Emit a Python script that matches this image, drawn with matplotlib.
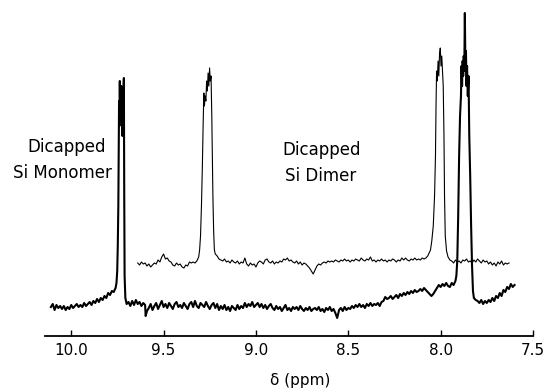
import numpy as np
import matplotlib
matplotlib.use("Agg")
import matplotlib.pyplot as plt

# ---- lower trace (dicapped Si monomer), ppm vs. intensity ----
low_base1_ppm = np.round(np.arange(10.11, 9.755, -0.01), 3)
low_base1 = [2.9, 3.2, 2.6, 3.1, 2.8, 3.0, 2.7, 3.0, 2.6, 2.9, 2.7, 3.1, 2.8, 3.0, 3.2, 2.9, 3.1, 2.9,
             3.3, 3.0, 3.2, 3.4, 3.1, 3.5, 3.3, 3.7, 3.4, 3.8, 3.6, 4.0, 3.8, 4.3, 4.1, 4.5, 4.4, 4.8]

low_peak1_ppm = [9.755, 9.751, 9.748, 9.745, 9.743, 9.741, 9.739, 9.737, 9.735, 9.733, 9.731, 9.729,
                 9.727, 9.725, 9.723, 9.721, 9.719, 9.715, 9.713, 9.711, 9.707, 9.700]
low_peak1 = [5.3, 6.5, 9.0, 13.0, 18.0, 23.5, 21.0, 25.5, 22.0, 24.8, 21.5, 25.0,
             22.0, 24.2, 20.0, 24.0, 23.5, 25.8, 14.0, 6.0, 3.8, 3.2]

low_base2_ppm = [9.69, 9.68, 9.67, 9.66, 9.65, 9.64, 9.63, 9.62, 9.61, 9.60, 9.597, 9.59]
low_base2 = [3.4, 3.0, 3.5, 3.1, 3.6, 3.2, 3.4, 3.0, 3.3, 3.1, 2.0, 2.5]

low_base3_ppm = np.round(np.arange(9.58, 7.915, -0.01), 3)
low_base3 = [2.8, 3.2, 2.6, 3.0, 3.3, 2.7, 3.1, 3.5, 2.9, 3.2,
             2.8, 3.3, 3.0, 2.7, 3.2, 3.4, 2.9, 3.1, 2.8, 3.3,
             3.0, 2.7, 3.2, 3.4, 2.9, 3.5, 3.0, 2.8, 3.3, 3.1,
             2.9, 3.4, 3.0, 2.7, 3.1, 3.3, 2.8, 3.2, 2.6, 3.0,
             2.7, 3.1, 2.6, 2.9, 2.5, 3.0, 2.8, 2.6, 3.1, 2.7,
             3.0, 2.8, 3.3, 2.9, 3.2, 3.0, 3.4, 2.9, 3.1, 3.3,
             2.9, 3.2, 2.8, 3.1, 2.7, 3.0, 3.2, 2.8, 2.6, 3.0,
             2.7, 2.9, 2.5, 2.8, 3.1, 2.6, 2.8, 2.5, 2.9, 2.7,
             2.9, 2.6, 3.0, 2.7, 2.5, 2.8, 2.6, 2.9, 2.5, 2.7,
             2.8, 2.6, 2.9, 2.5, 2.7, 2.4, 2.8, 2.6, 2.9, 2.5,
             2.7, 2.3, 1.8, 2.6, 2.8, 2.5, 2.9, 2.6, 2.8, 2.7,
             3.0, 2.8, 3.1,
             2.9, 3.2, 2.9, 3.1, 2.8, 3.2, 3.0, 3.3, 3.0, 3.2,
             3.1, 3.3, 3.0, 3.4, 3.5, 3.9, 3.7, 3.8, 4.0, 3.7,
             3.9, 4.1, 3.8, 4.2, 4.0, 4.3, 4.1, 4.4, 4.2, 4.5,
             4.3, 4.6, 4.4, 4.5, 4.7, 4.5, 4.8, 4.6, 4.4, 4.2,
             4.0, 4.2, 4.5, 4.8, 5.1, 4.9, 5.2, 5.0, 5.3, 5.0,
             4.9, 5.3, 5.1, 5.5]

low_peak2_ppm = [7.915, 7.910, 7.905, 7.900, 7.895, 7.890, 7.887, 7.884, 7.881, 7.878, 7.875, 7.872,
                 7.869, 7.866, 7.863, 7.860, 7.857, 7.853, 7.849, 7.845, 7.840, 7.835, 7.830, 7.825,
                 7.820, 7.810]
low_peak2 = [6.0, 7.5, 12.0, 18.0, 22.0, 24.0, 27.0, 25.0, 27.5, 26.0, 28.0, 26.5,
             32.3, 27.0, 28.5, 25.0, 27.0, 24.0, 26.0, 20.0, 16.0, 11.0, 7.0, 4.5,
             3.8, 3.6]

low_base4_ppm = np.round(np.arange(7.80, 7.595, -0.01), 3)
low_base4 = [3.5, 3.3, 3.6, 3.2, 3.5, 3.3, 3.6, 3.4, 3.8, 3.5, 4.0,
             3.8, 4.3, 4.0, 4.6, 4.4, 4.9, 4.7, 5.2, 4.9, 5.1]

# ---- upper trace (dicapped Si dimer) ----
up_base1_ppm = np.round(np.arange(9.64, 9.315, -0.01), 3)
up_base1 = [7.3, 7.1, 7.4, 7.2, 7.3, 7.0, 7.2, 6.9, 7.1, 7.3, 7.2, 7.6, 7.4, 7.9, 8.2, 7.7, 7.8,
            7.5, 7.4, 7.1, 7.0, 7.3, 7.1, 7.2, 6.9, 6.8, 7.1, 7.0, 7.4, 7.3, 7.4, 7.3, 7.5]

up_peak1_ppm = [9.310, 9.305, 9.300, 9.295, 9.290, 9.286, 9.282, 9.279, 9.275, 9.271, 9.267, 9.263,
                9.259, 9.255, 9.251, 9.247, 9.243, 9.239, 9.236, 9.233, 9.229, 9.225, 9.220, 9.210,
                9.200]
up_peak1 = [7.9, 8.6, 10.0, 13.0, 17.0, 21.0, 24.3, 23.0, 24.0, 23.5, 25.5, 24.5,
            26.3, 25.0, 26.8, 25.5, 26.0, 22.0, 18.0, 14.0, 10.5, 8.6, 8.2, 8.0,
            7.7]

up_base2_ppm = np.round(np.arange(9.19, 8.065, -0.01), 3)
up_base2 = [7.6, 7.5, 7.7, 7.4, 7.5, 7.3, 7.6, 7.4, 7.3, 7.5,
            7.2, 7.4, 7.3, 7.8, 7.2, 7.0, 7.3, 7.1, 7.2, 6.9,
            7.3, 7.5, 7.4, 7.2, 7.6, 7.7, 7.4, 7.3, 7.5, 7.2,
            7.4, 7.3, 7.5, 7.4, 7.7, 7.6, 7.8, 7.5, 7.6, 7.4,
            7.3, 7.5, 7.2, 7.4, 7.1, 7.3, 7.2, 7.0, 6.8, 6.5,
            6.2, 6.6, 7.0, 7.2, 7.1, 7.3, 7.4, 7.3, 7.5, 7.4,
            7.5, 7.4, 7.6, 7.5, 7.4, 7.6, 7.5, 7.7, 7.5, 7.6,
            7.4, 7.6, 7.5, 7.7, 7.6, 7.5, 7.8, 7.6, 7.5, 7.7,
            7.6, 7.9, 7.5, 7.6, 7.4, 7.6, 7.5, 7.7, 7.5, 7.6,
            7.4, 7.6, 7.5, 7.7, 7.6, 7.4, 7.6, 7.5, 7.8, 7.6,
            7.8, 7.6, 7.5, 7.7, 7.6, 7.8, 7.6, 7.7, 7.6, 7.8,
            7.7, 7.8, 8.0]

up_peak2_ppm = [8.065, 8.055, 8.048, 8.040, 8.033, 8.028, 8.025, 8.022, 8.018, 8.014, 8.010, 8.006,
                8.002, 7.998, 7.994, 7.990, 7.986, 7.982, 7.979, 7.975, 7.968, 7.960, 7.950]
up_peak2 = [8.2, 8.6, 9.5, 11.0, 14.0, 18.0, 23.0, 26.5, 25.5, 27.5, 26.0, 28.2,
            28.8, 27.0, 28.0, 26.5, 25.0, 20.0, 14.0, 10.0, 8.5, 7.9, 7.6]

up_base3_ppm = np.round(np.arange(7.94, 7.625, -0.01), 3)
up_base3 = [7.5, 7.3, 7.6, 7.4, 7.5, 7.3, 7.6, 7.5, 7.7, 7.4, 7.5, 7.3, 7.6, 7.4, 7.7, 7.5,
            7.3, 7.6, 7.4, 7.5, 7.2, 7.4, 7.1, 7.3, 7.0, 7.4, 7.2, 7.5, 7.1, 7.3, 7.2, 7.3]

tick_vals = [10.0, 9.5, 9.0, 8.5, 8.0, 7.5]
tick_labels = ["10.0", "9.5", "9.0", "8.5", "8.0", "7.5"]

lower_x = np.concatenate([low_base1_ppm, low_peak1_ppm, low_base2_ppm, low_base3_ppm, low_peak2_ppm, low_base4_ppm])
lower_y = np.concatenate([low_base1, low_peak1, low_base2, low_base3, low_peak2, low_base4])
upper_x = np.concatenate([up_base1_ppm, up_peak1_ppm, up_base2_ppm, up_peak2_ppm, up_base3_ppm])
upper_y = np.concatenate([up_base1, up_peak1, up_base2, up_peak2, up_base3])

W, H = 545, 389
fig = plt.figure(figsize=(W / 100, H / 100), dpi=100)
ax = fig.add_axes([45 / W, (H - 336) / H, 488 / W, 336 / H])

ax.plot(upper_x, upper_y, color="black", lw=0.8)
ax.plot(lower_x, lower_y, color="black", lw=1.5)

ax.set_xlim(10.142, 7.5)
ax.set_ylim(0, 33.6)
for s in ["top", "left", "right"]:
    ax.spines[s].set_visible(False)
ax.spines["bottom"].set_linewidth(1.3)
ax.set_yticks([])
ax.set_xticks(tick_vals)
ax.set_xticklabels(tick_labels)
ax.tick_params(axis="x", direction="in", length=4, width=1, labelsize=11, pad=5)
ax.patch.set_alpha(0)

# labels (pixel positions from the reference)
def ftext(x, y, s, size=12):
    fig.text(x / W, 1 - y / H, s, ha="center", va="center", fontsize=size)

ftext(67, 147, "Dicapped")
ftext(62, 173, "Si Monomer")
ftext(322, 150, "Dicapped")
ftext(321, 176, "Si Dimer")
ftext(300, 381, "δ (ppm)", size=11)

fig.savefig("out.png", dpi=100)
